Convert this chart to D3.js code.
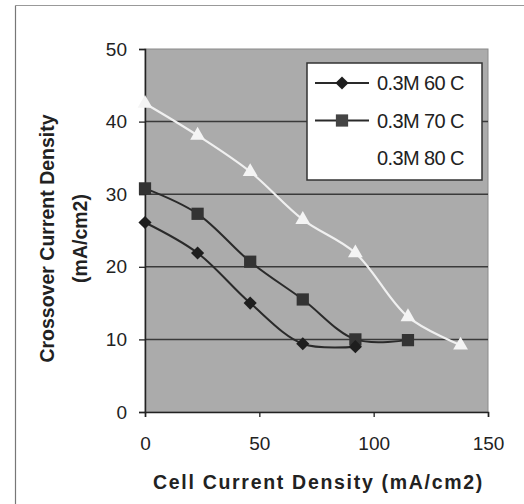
<!DOCTYPE html>
<html>
<head>
<meta charset="utf-8">
<script src="https://cdn.jsdelivr.net/npm/d3@7"></script>
<style>
  body { margin: 0; background: #fff; }
  svg { font-family: Arial, "Liberation Sans", sans-serif; }
</style>
</head>
<body>
<svg id="chart" width="524" height="504"></svg>
<script>
// data
const xVals = [0, 23, 46, 69, 92, 115, 138];
const series60 = [26.1, 21.9, 15.0, 9.4, 9.0];
const series70 = [30.8, 27.3, 20.7, 15.5, 10.0, 9.9];
const series80 = [42.5, 38.1, 33.1, 26.5, 21.9, 13.1, 9.2];
const seriesNames = ["0.3M 60 C", "0.3M 70 C", "0.3M 80 C"];
const xTicks = [0, 50, 100, 150];
const yTicks = [0, 10, 20, 30, 40, 50];

const svg = d3.select("#chart");

const plotL = 145, plotR = 488, plotT = 49, plotB = 412;

const x = d3.scaleLinear().domain([0, 150]).range([plotL, plotR]);
const y = d3.scaleLinear().domain([0, 50]).range([plotB, plotT]);

// outer frame (left + top edge show in the scan)
svg.append("line").attr("x1", 15.5).attr("y1", 5.5).attr("x2", 524).attr("y2", 5.5)
  .attr("stroke", "#999").attr("stroke-width", 1.2);
svg.append("line").attr("x1", 15.5).attr("y1", 5.5).attr("x2", 15.5).attr("y2", 504)
  .attr("stroke", "#777").attr("stroke-width", 1.2);

// grey plot background
svg.append("rect")
  .attr("x", plotL).attr("y", plotT)
  .attr("width", plotR - plotL).attr("height", plotB - plotT)
  .attr("fill", "#ababab")
  .attr("stroke", "#8a8a8a");

// horizontal grid lines
svg.append("g").selectAll("line")
  .data(yTicks.filter(d => d > 0 && d < 50))
  .join("line")
  .attr("x1", plotL).attr("x2", plotR)
  .attr("y1", d => y(d)).attr("y2", d => y(d))
  .attr("stroke", "#3a3a3a").attr("stroke-width", 1.5);

// axes
const xAxis = svg.append("g")
  .attr("transform", `translate(0,${plotB})`)
  .call(d3.axisBottom(x).tickValues(xTicks).tickSize(5).tickPadding(20));
const yAxis = svg.append("g")
  .attr("transform", `translate(${plotL},0)`)
  .call(d3.axisLeft(y).tickValues(yTicks).tickSize(6).tickPadding(12));

[xAxis, yAxis].forEach(g => {
  g.select(".domain").attr("stroke", "#222").attr("stroke-width", 1.5);
  g.selectAll(".tick line").attr("stroke", "#222").attr("stroke-width", 1.3);
  g.selectAll(".tick text")
    .attr("fill", "#222")
    .style("font-size", "19px")
    .style("font-family", "Arial, 'Liberation Sans', sans-serif");
});

// smoothed lines
const line = d3.line()
  .x(d => x(d[0]))
  .y(d => y(d[1]))
  .curve(d3.curveCatmullRom.alpha(0.5));

const pts60 = series60.map((v, i) => [xVals[i], v]);
const pts70 = series70.map((v, i) => [xVals[i], v]);
const pts80 = series80.map((v, i) => [xVals[i], v]);

svg.append("path").datum(pts80).attr("d", line)
  .attr("fill", "none").attr("stroke", "#f0f0f0").attr("stroke-width", 2.2);
svg.append("path").datum(pts70).attr("d", line)
  .attr("fill", "none").attr("stroke", "#2a2a2a").attr("stroke-width", 2);
svg.append("path").datum(pts60).attr("d", line)
  .attr("fill", "none").attr("stroke", "#2a2a2a").attr("stroke-width", 2);

const diamond = d3.symbol().type(d3.symbolDiamond2).size(110);
const square = d3.symbol().type(d3.symbolSquare).size(150);
const triangle = d3.symbol().type(d3.symbolTriangle).size(95);

svg.append("g").selectAll("path")
  .data(pts80).join("path")
  .attr("transform", d => `translate(${x(d[0])},${y(d[1])})`)
  .attr("d", triangle).attr("fill", "#f4f4f4");
svg.append("g").selectAll("path")
  .data(pts70).join("path")
  .attr("transform", d => `translate(${x(d[0])},${y(d[1])})`)
  .attr("d", square).attr("fill", "#333");
svg.append("g").selectAll("path")
  .data(pts60).join("path")
  .attr("transform", d => `translate(${x(d[0])},${y(d[1])})`)
  .attr("d", diamond).attr("fill", "#1e1e1e");

// legend
const legend = svg.append("g").attr("transform", "translate(307,63)");
legend.append("rect")
  .attr("width", 175).attr("height", 117)
  .attr("fill", "#fff").attr("stroke", "#333").attr("stroke-width", 1.5);

const legendRows = legend.selectAll("g.row")
  .data(seriesNames).join("g")
  .attr("class", "row")
  .attr("transform", (d, i) => `translate(0,${20 + i * 37.5})`);

legendRows.filter((d, i) => i < 2).append("line")
  .attr("x1", 8).attr("x2", 62).attr("y1", 0).attr("y2", 0)
  .attr("stroke", "#2a2a2a").attr("stroke-width", 2);
legendRows.filter((d, i) => i === 0).append("path")
  .attr("transform", "translate(35,0)").attr("d", diamond).attr("fill", "#1e1e1e");
legendRows.filter((d, i) => i === 1).append("path")
  .attr("transform", "translate(35,0)").attr("d", square).attr("fill", "#444");
legendRows.filter((d, i) => i === 2).append("line")
  .attr("x1", 8).attr("x2", 62).attr("y1", 0).attr("y2", 0)
  .attr("stroke", "#fff").attr("stroke-width", 2);

legendRows.append("text")
  .attr("x", 70).attr("y", 0)
  .attr("dominant-baseline", "central")
  .attr("fill", "#222")
  .style("font-size", "20px")
  .style("letter-spacing", "-0.6px")
  .text(d => d);

// axis titles
svg.append("text")
  .attr("x", (plotL + plotR) / 2 + 2).attr("y", 489)
  .attr("text-anchor", "middle")
  .attr("fill", "#222")
  .style("font-size", "19.5px").style("font-weight", "bold")
  .style("letter-spacing", "1.7px")
  .text("Cell Current Density (mA/cm2)");

const yTitle = svg.append("text")
  .attr("transform", `translate(54,${(plotT + plotB) / 2 + 8}) rotate(-90)`)
  .attr("text-anchor", "middle")
  .attr("fill", "#222")
  .style("font-size", "19.5px").style("font-weight", "bold");
yTitle.append("tspan").attr("x", 0).attr("dy", 0).text("Crossover Current Density");
yTitle.append("tspan").attr("x", 0).attr("dy", 33).text("(mA/cm2)");
</script>
</body>
</html>
